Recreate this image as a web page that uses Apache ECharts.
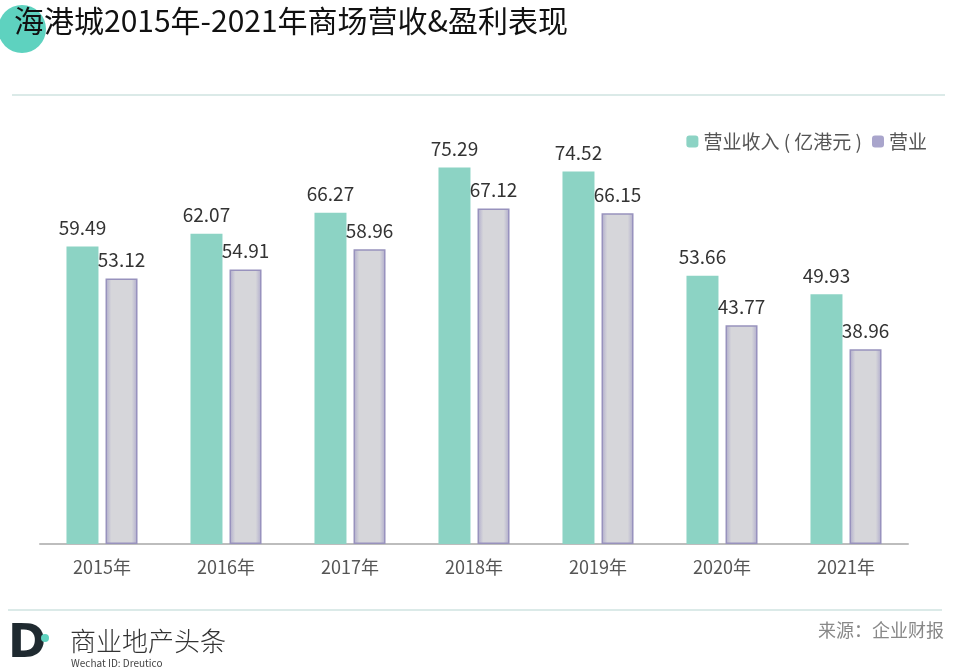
<!DOCTYPE html>
<html><head><meta charset="utf-8">
<script src="https://cdn.jsdelivr.net/npm/echarts@6/dist/echarts.min.js"></script>
<style>html,body{margin:0;padding:0;background:#fff}#c{width:956px;height:672px}</style>
</head><body><div id="c"></div>
<script>
const categories = ['2015年','2016年','2017年','2018年','2019年','2020年','2021年'];
const revenue = [59.49, 62.07, 66.27, 75.29, 74.52, 53.66, 49.93];
const operating = [53.12, 54.91, 58.96, 67.12, 66.15, 43.77, 38.96];
const seriesNames = ['营业收入 ( 亿港元 )', '营业'];
const titleText = '海港城2015年-2021年商场营收&盈利表现';
const sourceText = '来源：企业财报';

const FONT = '"Noto Sans CJK SC", "Noto Sans", sans-serif';
const chart = echarts.init(document.getElementById('c'));
chart.setOption({
  backgroundColor: '#fff',
  animation: false,
  textStyle: { fontFamily: FONT },
  legend: {
    right: 24, top: 127,
    itemWidth: 12, itemHeight: 12, itemGap: 10,
    textStyle: { fontSize: 19, color: '#555', fontFamily: FONT },
    data: [
      { name: seriesNames[0], itemStyle: { color: '#8cd3c4' } },
      { name: seriesNames[1], itemStyle: { color: '#a9a5cc', borderWidth: 0 } }
    ]
  },
  grid: { left: 40, right: 48, top: 144, bottom: 128 },
  xAxis: {
    type: 'category', data: categories,
    axisLine: { lineStyle: { color: '#bdbdbd', width: 2 } },
    axisTick: { show: false },
    axisLabel: { fontSize: 18, color: '#555', margin: 14, fontFamily: FONT }
  },
  yAxis: { type: 'value', min: 0, max: 80, show: false, splitLine: { show: false } },
  series: [
    {
      name: seriesNames[0], type: 'bar', data: revenue, barWidth: 32, barGap: '22%',
      itemStyle: { color: '#8cd3c4' },
      label: { show: true, position: 'top', distance: 9, fontSize: 19, color: '#333', fontFamily: FONT }
    },
    {
      name: seriesNames[1], type: 'bar', data: operating, barWidth: 32,
      itemStyle: {
        color: {
          type: 'linear', x: 0, y: 0, x2: 1, y2: 0,
          colorStops: [
            { offset: 0, color: '#aeaacb' },
            { offset: 0.18, color: '#d6d6da' },
            { offset: 0.82, color: '#d6d6da' },
            { offset: 1, color: '#aeaacb' }
          ]
        },
        borderColor: '#9892bd', borderWidth: 1.5
      },
      label: { show: true, position: 'top', distance: 9, fontSize: 19, color: '#333', fontFamily: FONT }
    }
  ],
  graphic: [
    { type: 'circle', shape: { cx: 22, cy: 29, r: 24 }, style: { fill: '#5ed2bf' }, z: 1 },
    { type: 'text', left: 14, top: 6, z: 2,
      style: { text: titleText, fontSize: 30, fill: '#111', fontFamily: FONT } },
    { type: 'line', shape: { x1: 12, y1: 95, x2: 945, y2: 95 }, style: { stroke: '#cfe3e1', lineWidth: 1.5 } },
    { type: 'line', shape: { x1: 8, y1: 610, x2: 942, y2: 610 }, style: { stroke: '#cfe3e1', lineWidth: 1.5 } },
    { type: 'text', left: 8, top: 622,
      style: { text: 'D', fontSize: 46, fontWeight: 'bold', fill: '#1f2a30', fontFamily: '"DejaVu Sans", sans-serif' } },
    { type: 'circle', shape: { cx: 45, cy: 638, r: 4 }, style: { fill: '#5ed2bf' } },
    { type: 'text', left: 70, top: 628,
      style: { text: '商业地产头条', fontSize: 26, fontWeight: 300, fill: '#333', fontFamily: FONT } },
    { type: 'text', left: 71, top: 658,
      style: { text: 'Wechat ID: Dreutico', fontSize: 10, fill: '#444', fontFamily: FONT } },
    { type: 'text', right: 12, top: 621,
      style: { text: sourceText, fontSize: 18, fill: '#888', fontFamily: FONT } }
  ]
});
</script></body></html>
